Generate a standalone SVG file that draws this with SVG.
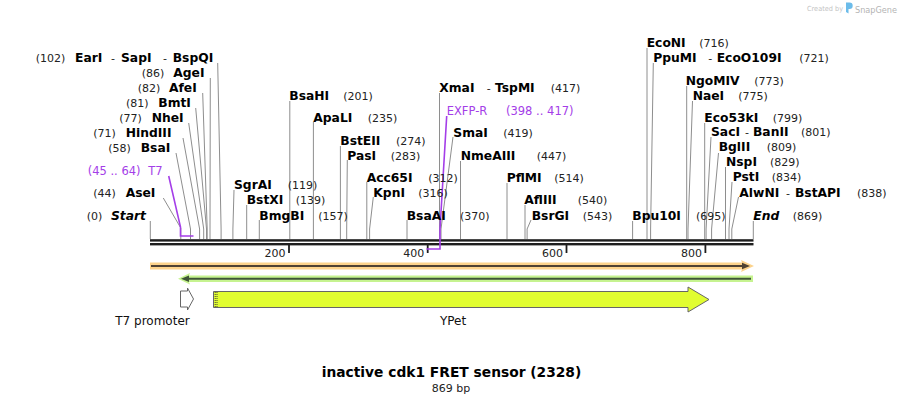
<svg xmlns="http://www.w3.org/2000/svg" width="904" height="402" viewBox="0 0 904 402">
<style>
text{font-family:"DejaVu Sans","Liberation Sans",sans-serif}
.n{font-size:12.3px;font-weight:bold;fill:#000}
.i{font-style:italic}
.p{font-size:11px;fill:#222}
.d{font-size:11px;fill:#222}
.pu{font-size:11.5px;fill:#a43ee8}
.l{fill:none;stroke:#8e8e8e;stroke-width:1}
.pl{fill:none;stroke:#a43ee8;stroke-width:1.6}
.t{font-size:11px;fill:#222;text-anchor:end}
.f{font-size:12px;fill:#111;text-anchor:middle}
</style>
<rect width="904" height="402" fill="#fff"/>
<g id="watermark">
<text x="807" y="11" font-size="7" fill="#c4c4c4" textLength="36" lengthAdjust="spacingAndGlyphs">Created by</text>
<path d="M846,2.5 h3.5 a3.2,3.2 0 0 1 0,6.4 h-1 v4.5 l-2.5,-1.5 z" fill="#6cbcea"/>
<text x="855" y="12.5" font-size="9.5" fill="#b4b4b4" textLength="42" lengthAdjust="spacingAndGlyphs">SnapGene</text>
</g>
<g id="connectors">
<path class="l" d="M150.3,221 V239"/>
<path class="l" d="M163.3,198 L180.8,228 V239"/>
<path class="l" d="M176,153 L190.5,229 V239"/>
<path class="l" d="M183,138 L199.6,229 V239"/>
<path class="l" d="M188.7,123 L203.7,229 V239"/>
<path class="l" d="M195.7,108 L206.5,229 V239"/>
<path class="l" d="M202.7,93 L207.2,229 V239"/>
<path class="l" d="M210.3,78 L210,229 V239"/>
<path class="l" d="M217.7,63 L221.1,229 V239"/>
<path class="l" d="M234,190 L232.9,229 V239"/>
<path class="l" d="M246.7,205 V239"/>
<path class="l" d="M259.3,220 V239"/>
<path class="l" d="M289.8,101 V239"/>
<path class="l" d="M313.4,122 V239"/>
<path class="l" d="M340.4,146 V239"/>
<path class="l" d="M347.3,160 L346.7,229 V239"/>
<path class="l" d="M366.8,182 V239"/>
<path class="l" d="M373.3,197 L369.6,229 V239"/>
<path class="l" d="M407,220 V239"/>
<path class="l" d="M439.5,93 V239"/>
<path class="l" d="M453,137 L441,229 V239"/>
<path class="l" d="M460.5,161 V239"/>
<path class="l" d="M507,183 V239"/>
<path class="l" d="M525,205 V239"/>
<path class="l" d="M531,220 L527.1,229 V239"/>
<path class="l" d="M632.6,221 V239"/>
<path class="l" d="M647,48 V239"/>
<path class="l" d="M653.3,63 L650.6,229 V239"/>
<path class="l" d="M686.7,86 V239"/>
<path class="l" d="M692.5,101 L688,229 V239"/>
<path class="l" d="M704.7,123 V239"/>
<path class="l" d="M711,137 L706.1,229 V239"/>
<path class="l" d="M718.5,153 L711.6,229 V239"/>
<path class="l" d="M725.5,167 V239"/>
<path class="l" d="M732,182 L729,229 V239"/>
<path class="l" d="M738.5,197 L731.8,229 V239"/>
<path class="l" d="M753.3,221 V239"/>
<path class="pl" d="M168.7,176 L180.5,227 V236 H193.5"/>
</g>
<g id="backbone">
<rect x="150" y="239.2" width="603.5" height="2.4" fill="#1e1e1e"/>
<rect x="150" y="243" width="603.5" height="2.4" fill="#1e1e1e"/>
<rect x="288.1" y="245" width="1.8" height="8" fill="#1e1e1e"/>
<rect x="426.8" y="245" width="1.8" height="8" fill="#1e1e1e"/>
<rect x="565.6" y="245" width="1.8" height="8" fill="#1e1e1e"/>
<rect x="704.5" y="245" width="1.8" height="8" fill="#1e1e1e"/>
<text class="t" x="285.5" y="256.5">200</text>
<text class="t" x="424.3" y="256.5">400</text>
<text class="t" x="563.1" y="256.5">600</text>
<text class="t" x="702" y="256.5">800</text>
<path class="pl" d="M446.7,116 L440,229 V249 H426.5"/>
</g>
<g id="orf-forward">
<path d="M150,262.5 H742 L741,260 L754,266 L741,272 L742,269.5 H150 Z" fill="#fcd38c"/>
<line x1="151" y1="266" x2="745" y2="266" stroke="#4f4233" stroke-width="2"/>
<polygon points="742,262.8 750,266 742,269.2" fill="#4f4233"/>
</g>
<g id="orf-reverse">
<path d="M753,275.5 H189 L190,273 L178,278.7 L190,284.4 L189,282 H753 Z" fill="#c6f390"/>
<line x1="186" y1="278.7" x2="751" y2="278.7" stroke="#3f5537" stroke-width="2"/>
<polygon points="181,278.7 189,275.5 189,281.9" fill="#3f5537"/>
</g>
<g id="t7-promoter">
<polygon points="180.5,291 187.5,291 187.5,288 193.5,299 187.5,310 187.5,307 180.5,307" fill="#fff" stroke="#666" stroke-width="1"/>
<text class="f" x="152.5" y="325">T7 promoter</text>
</g>
<g id="ypet">
<polygon points="213.5,291.5 688,291.5 688,287 709,299.5 688,312 688,307.5 213.5,307.5" fill="#e1fd30" stroke="#666" stroke-width="1"/>
<line x1="215.2" y1="292" x2="215.2" y2="307" stroke="#333" stroke-width="0.9" stroke-dasharray="1 1"/>
<line x1="217" y1="292" x2="217" y2="307" stroke="#333" stroke-width="0.9" stroke-dasharray="1 1"/>
<text class="f" x="453" y="325">YPet</text>
</g>
<g id="site-start"><text class="p" x="86.7" y="219.5">(0)</text><text class="n i" x="111" y="219.5">Start</text></g>
<g id="site-asei"><text class="p" x="93.3" y="197">(44)</text><text class="n" x="125.7" y="197">AseI</text></g>
<g id="feature-t7"><text class="pu" x="87.7" y="174.5">(45 .. 64)</text><text class="pu" x="148.3" y="174.5">T7</text></g>
<g id="site-bsai"><text class="p" x="108.3" y="151.5">(58)</text><text class="n" x="140.7" y="151.5">BsaI</text></g>
<g id="site-hindiii"><text class="p" x="93.3" y="136.5">(71)</text><text class="n" x="125.7" y="136.5">HindIII</text></g>
<g id="site-nhei"><text class="p" x="119.3" y="121.5">(77)</text><text class="n" x="151.7" y="121.5">NheI</text></g>
<g id="site-bmti"><text class="p" x="126" y="106.5">(81)</text><text class="n" x="158.3" y="106.5">BmtI</text></g>
<g id="site-afei"><text class="p" x="137.7" y="91.5">(82)</text><text class="n" x="169" y="91.5">AfeI</text></g>
<g id="site-agei"><text class="p" x="141.7" y="76.5">(86)</text><text class="n" x="173.3" y="76.5">AgeI</text></g>
<g id="site-eari"><text class="p" x="35.7" y="61.5">(102)</text><text class="n" x="75" y="61.5">EarI</text><text class="d" x="111" y="61.5">-</text><text class="n" x="121" y="61.5">SapI</text><text class="d" x="163" y="61.5">-</text><text class="n" x="172.7" y="61.5">BspQI</text></g>
<g id="site-sgrai"><text class="n" x="234" y="189">SgrAI</text><text class="p" x="287.7" y="189">(119)</text></g>
<g id="site-bstxi"><text class="n" x="246.7" y="204">BstXI</text><text class="p" x="295.7" y="204">(139)</text></g>
<g id="site-bmgbi"><text class="n" x="259.3" y="219.5">BmgBI</text><text class="p" x="318.3" y="219.5">(157)</text></g>
<g id="site-bsahi"><text class="n" x="289.3" y="99.5">BsaHI</text><text class="p" x="343.3" y="99.5">(201)</text></g>
<g id="site-apali"><text class="n" x="313.3" y="121.5">ApaLI</text><text class="p" x="367.7" y="121.5">(235)</text></g>
<g id="site-bsteii"><text class="n" x="340.3" y="144.5">BstEII</text><text class="p" x="396" y="144.5">(274)</text></g>
<g id="site-pasi"><text class="n" x="347.3" y="159.5">PasI</text><text class="p" x="390.7" y="159.5">(283)</text></g>
<g id="site-acc65i"><text class="n" x="366.7" y="181.5">Acc65I</text><text class="p" x="428.3" y="181.5">(312)</text></g>
<g id="site-kpni"><text class="n" x="373.3" y="196.5">KpnI</text><text class="p" x="418.3" y="196.5">(316)</text></g>
<g id="site-bsaai"><text class="n" x="406.7" y="219.5">BsaAI</text><text class="p" x="460" y="219.5">(370)</text></g>
<g id="site-xmai"><text class="n" x="439.3" y="91.5">XmaI</text><text class="d" x="486.7" y="91.5">-</text><text class="n" x="495" y="91.5">TspMI</text><text class="p" x="550.7" y="91.5">(417)</text></g>
<g id="feature-exfp-r"><text class="pu" x="446.7" y="114.5">EXFP-R</text><text class="pu" x="506" y="114.5">(398 .. 417)</text></g>
<g id="site-smai"><text class="n" x="453.3" y="136.5">SmaI</text><text class="p" x="503.3" y="136.5">(419)</text></g>
<g id="site-nmeaiii"><text class="n" x="460.7" y="159.5">NmeAIII</text><text class="p" x="536.7" y="159.5">(447)</text></g>
<g id="site-pflmi"><text class="n" x="506.7" y="181.5">PflMI</text><text class="p" x="554.3" y="181.5">(514)</text></g>
<g id="site-afliii"><text class="n" x="524.3" y="204">AflIII</text><text class="p" x="577.7" y="204">(540)</text></g>
<g id="site-bsrgi"><text class="n" x="531.7" y="219.5">BsrGI</text><text class="p" x="582.7" y="219.5">(543)</text></g>
<g id="site-bpu10i"><text class="n" x="632.3" y="219.5">Bpu10I</text><text class="p" x="696" y="219.5">(695)</text></g>
<g id="site-econi"><text class="n" x="646.7" y="46.5">EcoNI</text><text class="p" x="699.3" y="46.5">(716)</text></g>
<g id="site-ppumi"><text class="n" x="653.3" y="61.5">PpuMI</text><text class="d" x="708.3" y="61.5">-</text><text class="n" x="716.7" y="61.5">EcoO109I</text><text class="p" x="799.3" y="61.5">(721)</text></g>
<g id="site-ngomiv"><text class="n" x="685.7" y="84.5">NgoMIV</text><text class="p" x="754.3" y="84.5">(773)</text></g>
<g id="site-naei"><text class="n" x="692.7" y="99.5">NaeI</text><text class="p" x="738.3" y="99.5">(775)</text></g>
<g id="site-eco53ki"><text class="n" x="704.3" y="121.5">Eco53kI</text><text class="p" x="772.7" y="121.5">(799)</text></g>
<g id="site-saci"><text class="n" x="711" y="136">SacI</text><text class="d" x="745" y="136">-</text><text class="n" x="753" y="136">BanII</text><text class="p" x="801" y="136">(801)</text></g>
<g id="site-bglii"><text class="n" x="718.7" y="151">BglII</text><text class="p" x="766.7" y="151">(809)</text></g>
<g id="site-nspi"><text class="n" x="726" y="166">NspI</text><text class="p" x="770" y="166">(829)</text></g>
<g id="site-psti"><text class="n" x="732.7" y="180.5">PstI</text><text class="p" x="771.7" y="180.5">(834)</text></g>
<g id="site-alwni"><text class="n" x="739.3" y="196.5">AlwNI</text><text class="d" x="786" y="196.5">-</text><text class="n" x="795" y="196.5">BstAPI</text><text class="p" x="857" y="196.5">(838)</text></g>
<g id="site-end"><text class="n i" x="753.3" y="219.5">End</text><text class="p" x="792.7" y="219.5">(869)</text></g>
<g id="title">
<text x="451.5" y="376.5" font-size="13.8" font-weight="bold" fill="#000" text-anchor="middle">inactive cdk1 FRET sensor (2328)</text>
<text x="451" y="391.5" font-size="11" fill="#222" text-anchor="middle">869 bp</text>
</g>
</svg>
